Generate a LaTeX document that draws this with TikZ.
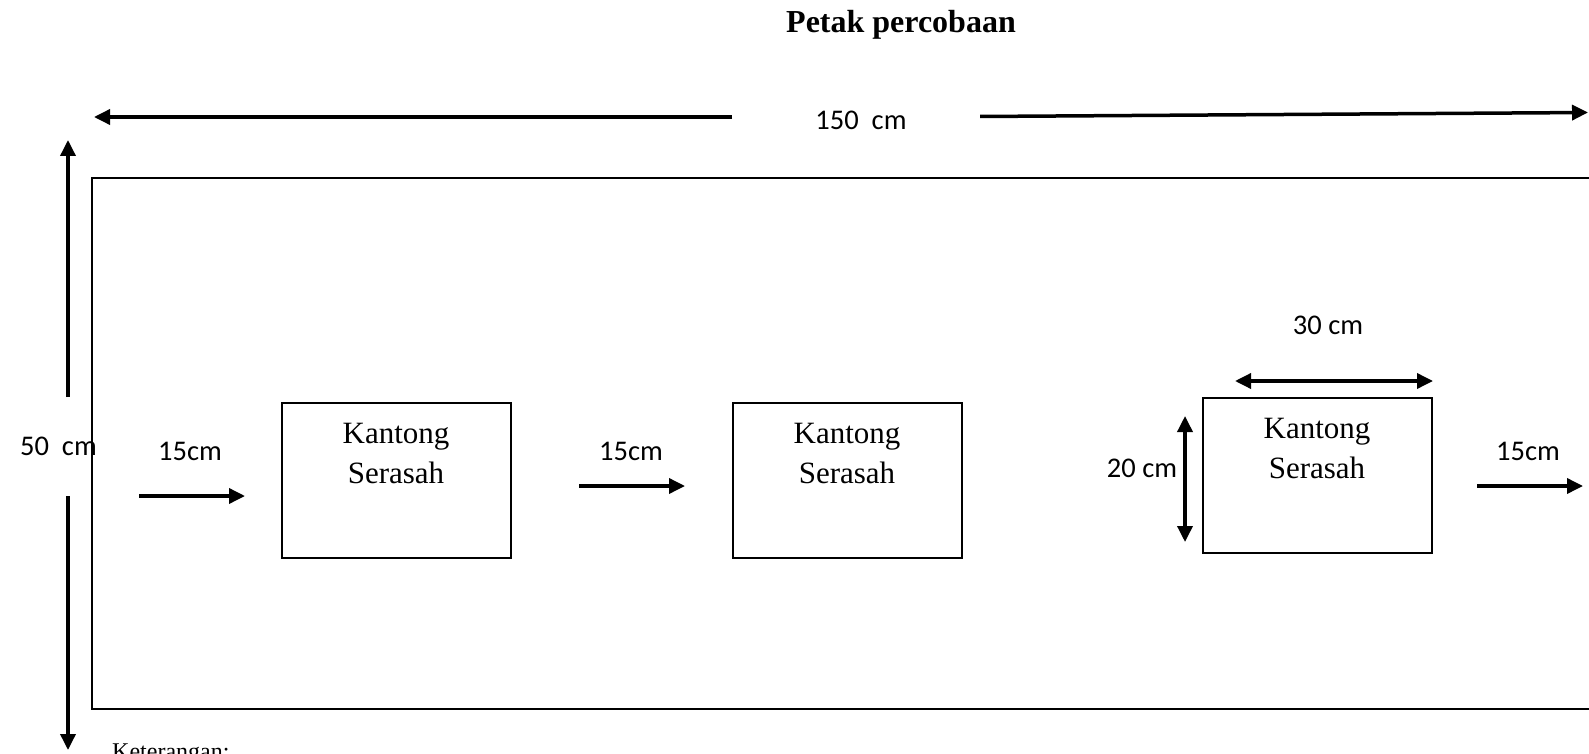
\documentclass[tikz,border=0pt]{standalone}
\usepackage{fontspec}
\setmainfont{Liberation Serif}
\newfontfamily\calibfont{Carlito}
\usetikzlibrary{arrows.meta}
\begin{document}
\begin{tikzpicture}[x=1pt,y=-1pt,
  tipA/.tip={Triangle[length=16pt,width=15pt]},
  dimarrow/.style={line width=3.5pt,-tipA},
  dimboth/.style={line width=3.5pt,tipA-tipA},
  frame/.style={draw,line width=1.8pt,inner sep=0pt},
  bag/.style={frame,minimum width=229pt,minimum height=155pt},
  bagtext/.style={anchor=base,inner sep=0pt,font=\fontsize{31}{36}\selectfont},
  cmlabel/.style={anchor=base,inner sep=0pt,font=\calibfont\fontsize{28.5}{34}\selectfont},
]
\useasboundingbox (0,0) rectangle (1589,754);
\clip (0,0) rectangle (1589,754);

% title
\node[anchor=base,inner sep=0pt,font=\bfseries\fontsize{32}{38}\selectfont] (title) at (901,33) {Petak percobaan};

% outer plot
\node[frame,minimum width=1528pt,minimum height=531pt] (plot) at (856,443.5) {};

% width dimension
\coordinate (wl) at (732,117);
\coordinate (wlt) at (94,117);
\coordinate (wr) at (980,116.5);
\coordinate (wrt) at (1588,112.5);
\draw[dimarrow] (wl) -- (wlt);
\draw[dimarrow] (wr) -- (wrt);
\node[cmlabel] (w150) at (861,130) {150\ \ cm};

% height dimension
\coordinate (hu) at (68,397);
\coordinate (hut) at (68,140);
\coordinate (hd) at (68,496);
\coordinate (hdt) at (68,750);
\draw[dimarrow] (hu) -- (hut);
\draw[dimarrow] (hd) -- (hdt);
\node[cmlabel,anchor=base west] (h50) at (20,455) {50\ \ cm};

% bags
\node[bag] (b1) at (396.5,480.5) {};
\node[bag] (b2) at (847.5,480.5) {};
\node[bag] (b3) at (1317.5,475.5) {};
\node[bagtext] (b1a) at (396,443) {Kantong};
\node[bagtext] (b1b) at (396,483) {Serasah};
\node[bagtext] (b2a) at (847,443) {Kantong};
\node[bagtext] (b2b) at (847,483) {Serasah};
\node[bagtext] (b3a) at (1317,438) {Kantong};
\node[bagtext] (b3b) at (1317,478) {Serasah};

% spacing arrows
\coordinate (s1a) at (139,496);
\coordinate (s1b) at (245,496);
\coordinate (s2a) at (579,486);
\coordinate (s2b) at (685,486);
\coordinate (s3a) at (1477,486);
\coordinate (s3b) at (1583,486);
\draw[dimarrow] (s1a) -- (s1b);
\draw[dimarrow] (s2a) -- (s2b);
\draw[dimarrow] (s3a) -- (s3b);
\node[cmlabel] (l1) at (190,460) {15cm};
\node[cmlabel] (l2) at (631,460) {15cm};
\node[cmlabel] (l3) at (1528,460) {15cm};

% bag dimensions
\coordinate (d30a) at (1235,381);
\coordinate (d30b) at (1433,381);
\draw[dimboth] (d30a) -- (d30b);
\node[cmlabel] (l30) at (1328,334) {30 cm};
\coordinate (d20a) at (1185,416);
\coordinate (d20b) at (1185,542);
\draw[dimboth] (d20a) -- (d20b);
\node[cmlabel] (l20) at (1142,477) {20 cm};

% legend (cut off at the bottom edge, as in the reference)
\node[anchor=base west,inner sep=0pt,font=\fontsize{24}{29}\selectfont] (ket) at (112,759) {Keterangan:};
\end{tikzpicture}
\end{document}
